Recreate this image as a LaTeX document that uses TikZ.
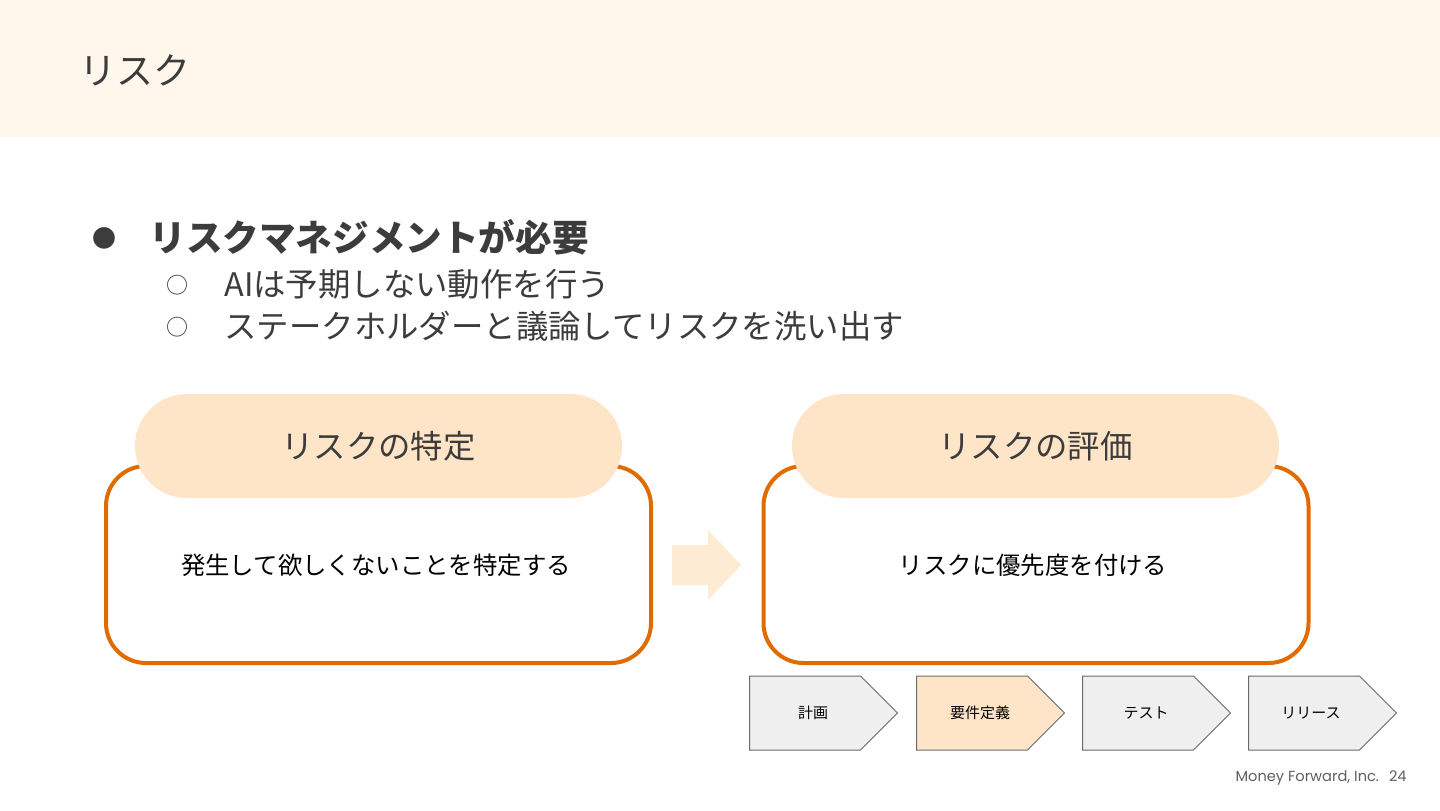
\documentclass[tikz,border=0pt]{standalone}
\usepackage{fontspec}
\setmainfont{Noto Sans CJK JP}
\newfontfamily\footfont{Poppins}
\usetikzlibrary{shapes.symbols}
\definecolor{headbg}{HTML}{FFF6EC}
\definecolor{pillbg}{HTML}{FFE5C7}
\definecolor{boxline}{HTML}{E06C00}
\definecolor{txt}{HTML}{3C3C3C}
\definecolor{arrowbg}{HTML}{FEEBD3}
\definecolor{chevgray}{HTML}{EFEFEF}
\definecolor{chevline}{HTML}{6B6B6B}
\definecolor{foot}{HTML}{5F5F5F}
\tikzset{
  bigbox/.style={draw=boxline, line width=2pt, rounded corners=20pt, fill=white,
    minimum width=272.5pt, minimum height=98.5pt, inner sep=0pt},
  pill/.style={fill=pillbg, rounded corners=25.9pt, minimum width=243.5pt,
    minimum height=52pt, inner sep=0pt, text=txt, font=\fontsize{16.2}{18}\selectfont},
  bodytext/.style={text=black, font=\fontsize{12.2}{14}\selectfont, inner sep=0pt},
  chev/.style={shape=signal, signal to=east, signal pointer angle=90,
    draw=chevline, line width=0.5pt, minimum width=74pt, minimum height=37pt,
    inner sep=0pt},
  chevlabel/.style={font=\fontsize{7.5}{9}\selectfont, text=black, inner sep=0pt},
}
\begin{document}
\begin{tikzpicture}[x=0.5pt,y=-0.5pt]
\useasboundingbox (0,0) rectangle (1440,810);
\fill[white] (0,0) rectangle (1440,810);
\fill[headbg] (0,0) rectangle (1440,137);
\node[anchor=west, text=txt, font=\fontsize{18.5}{20}\selectfont, inner sep=0pt] (title) at (79,70) {リスク};

% bullets
\node[text=txt, font=\fontsize{12}{12}\selectfont, inner sep=0pt] (b1) at (104,238) {●};
\node[anchor=west, text=txt, font=\fontsize{18.3}{20}\selectfont\bfseries, inner sep=0pt] (t1) at (149,237) {リスクマネジメントが必要};
\node[text=txt, font=\fontsize{11}{11}\selectfont, inner sep=0pt] (b2) at (177,285) {○};
\node[anchor=west, text=txt, font=\fontsize{16.2}{18}\selectfont, inner sep=0pt] (t2) at (224,284) {AIは予期しない動作を行う};
\node[text=txt, font=\fontsize{11}{11}\selectfont, inner sep=0pt] (b3) at (177,327) {○};
\node[anchor=west, text=txt, font=\fontsize{16.2}{18}\selectfont, inner sep=0pt] (t3) at (224,326) {ステークホルダーと議論してリスクを洗い出す};

% left box
\node[bigbox] (boxL) at (378.5,564.5) {};
\node[pill] (pillL) at (378.5,446) {リスクの特定};
\node[bodytext] (bodyL) at (376,565) {発生して欲しくないことを特定する};

% right box
\node[bigbox] (boxR) at (1036,564.5) {};
\node[pill] (pillR) at (1035.5,446) {リスクの評価};
\node[bodytext] (bodyR) at (1033,565) {リスクに優先度を付ける};

% block arrow between the boxes
\fill[arrowbg] (672,545) -- (708,545) -- (708,530) -- (741,565) -- (708,600) -- (708,585) -- (672,585) -- cycle;

% chevrons
\node[chev, fill=chevgray] (c1) at (805,713) {};
\node[chev, fill=pillbg] (c2) at (972,713) {};
\node[chev, fill=chevgray] (c3) at (1138,713) {};
\node[chev, fill=chevgray] (c4) at (1304,713) {};
\node[chevlabel] (l1) at (813,713) {計画};
\node[chevlabel] (l2) at (980,713) {要件定義};
\node[chevlabel] (l3) at (1146,713) {テスト};
\node[chevlabel] (l4) at (1311,713) {リリース};

% footer
\node[anchor=east, text=foot, font=\footfont\fontsize{7.3}{9}\selectfont, inner sep=0pt] (foot) at (1407,778) {Money Forward, Inc.\hspace{5pt}24};
\end{tikzpicture}
\end{document}
